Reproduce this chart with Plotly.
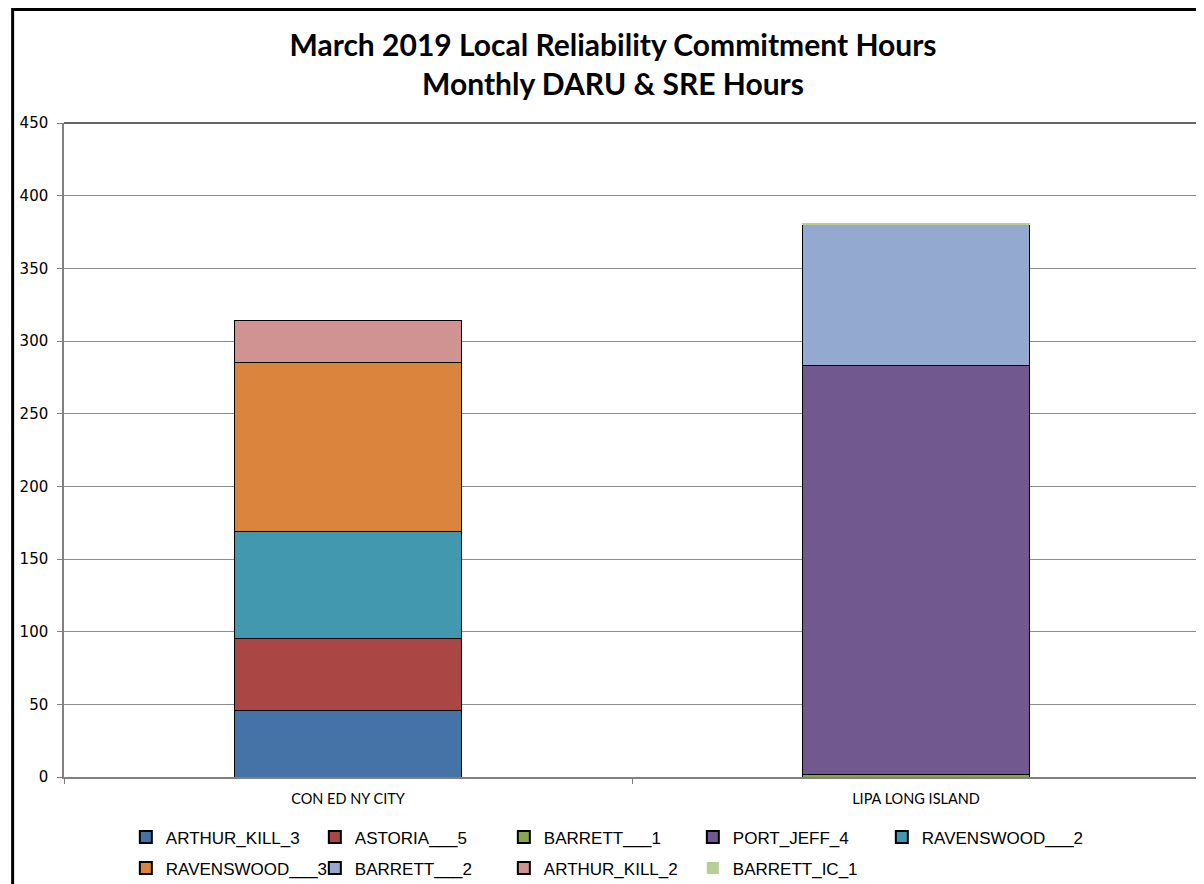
import plotly.graph_objects as go

categories = ["CON ED NY CITY", "LIPA LONG ISLAND"]
series_names = ["ARTHUR_KILL_3", "ASTORIA___5", "BARRETT___1", "PORT_JEFF_4",
                "RAVENSWOOD___2", "RAVENSWOOD___3", "BARRETT___2", "ARTHUR_KILL_2",
                "BARRETT_IC_1"]
arthur_kill_3 = [46, 0]
astoria_5 = [49, 0]
barrett_1 = [0, 2]
port_jeff_4 = [0, 281]
ravenswood_2 = [74, 0]
ravenswood_3 = [116, 0]
barrett_2 = [0, 97]
arthur_kill_2 = [29, 0]
barrett_ic_1 = [0, 1]
values = [arthur_kill_3, astoria_5, barrett_1, port_jeff_4, ravenswood_2,
          ravenswood_3, barrett_2, arthur_kill_2, barrett_ic_1]
colors = ["#4572A7", "#AA4643", "#89A54E", "#71588F", "#4198AF",
          "#DB843D", "#93A9CF", "#D19392", "#B9CD96"]
y_ticks = [0, 50, 100, 150, 200, 250, 300, 350, 400, 450]

# page is offset by the default 8px body margin, so work in figure pixels;
# the figure is a little taller than the window so the legends never push the margins
W, H = 1204, 960
PLOT_BOTTOM = 769
L, R, T = 53, 12, 115
B = H - PLOT_BOTTOM
pw, ph = W - L - R, H - T - B

fig = go.Figure()
for i, (name, vals, col) in enumerate(zip(series_names, values, colors)):
    lw = 0 if name == "BARRETT_IC_1" else 1
    last_in_row = name in ("RAVENSWOOD___2", "BARRETT_IC_1")
    fig.add_trace(go.Bar(
        name=name, x=categories, y=vals,
        legend="legend" if i < 5 else "legend2",
        legendwidth=200 if last_in_row else 144,
        marker=dict(color=col, line=dict(color="#000000", width=lw)),
    ))

def px_x(p):
    return (p - L) / pw

def px_y(p):
    return (PLOT_BOTTOM - p) / ph

legend_common = dict(
    orientation="h", xanchor="left", yanchor="top",
    font=dict(family="Liberation Sans", size=17, color="#000000"),
    entrywidth=144, entrywidthmode="pixels",
    traceorder="normal", itemsizing="constant",
    bgcolor="rgba(0,0,0,0)",
)

fig.update_layout(
    width=W, height=H,
    barmode="stack", bargap=0.6,
    plot_bgcolor="white", paper_bgcolor="white",
    margin=dict(l=L, r=R, t=T, b=B),
    title=dict(
        text="<b>March 2019 Local Reliability Commitment Hours<br>Monthly DARU & SRE Hours</b>",
        x=605 / W, xanchor="center", y=1 - 47.5 / H, yanchor="middle",
        font=dict(family="Lato", size=30, color="#000000"),
    ),
    font=dict(family="Liberation Sans", color="#000000"),
    legend=dict(x=px_x(115), y=px_y(811.5), **legend_common),
    legend2=dict(x=px_x(115), y=px_y(842.5), **legend_common),
    xaxis=dict(
        showline=True, linecolor="#808080", linewidth=2,
        ticks="outside", tickson="boundaries", ticklen=5, tickcolor="#808080",
        tickfont=dict(family="Lato", size=14.5, color="#000000"),
        ticklabelstandoff=8,
        showgrid=False,
    ),
    yaxis=dict(
        range=[0, 450], tickvals=y_ticks, showline=True, linecolor="#808080",
        linewidth=1.5, ticks="outside", ticklen=5, tickcolor="#808080",
        showgrid=True, gridcolor="#8c8c8c", gridwidth=1,
        tickfont=dict(family="DejaVu Sans", size=15, color="#000000"),
        ticklabelstandoff=6, zeroline=False,
    ),
    shapes=[
        dict(type="line", xref="paper", yref="paper", x0=0, x1=1, y0=1, y1=1,
             line=dict(color="#333333", width=1.5)),
        dict(type="line", xref="paper", yref="paper", x0=1, x1=1, y0=0, y1=1,
             line=dict(color="#333333", width=1.5)),
        dict(type="rect", xref="paper", yref="paper",
             x0=px_x(1.5), x1=px_x(1194), y0=px_y(H - 1.5), y1=px_y(1.5),
             line=dict(color="#000000", width=3)),
    ],
)

fig.write_html("out.html")
